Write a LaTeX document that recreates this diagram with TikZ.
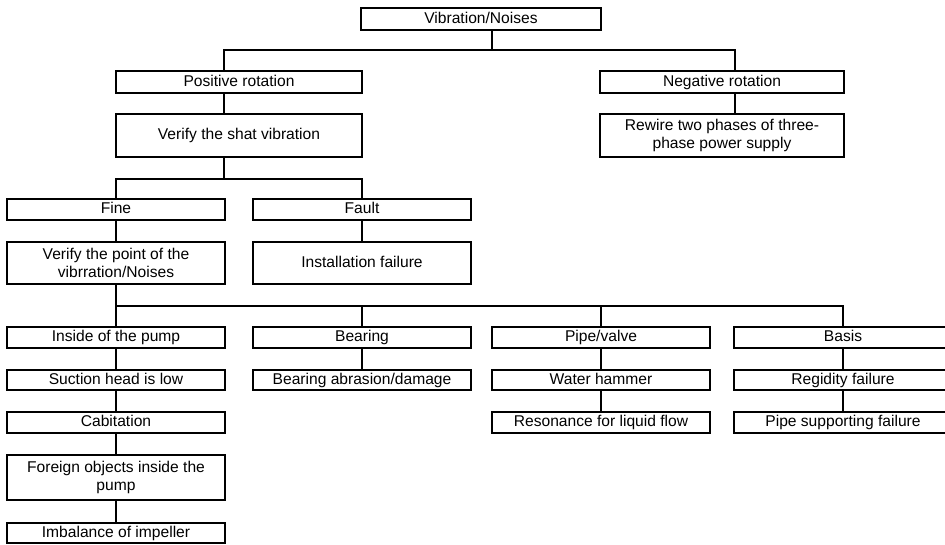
\documentclass[tikz,border=0pt]{standalone}
\usepackage{fontspec}
\setmainfont{Liberation Sans}
\usetikzlibrary{positioning}
\tikzset{
  box/.style={draw, line width=1.5pt, inner sep=0pt, align=center,
    minimum width=163.5pt, minimum height=15.75pt,
    text height=8.6pt, text depth=2.4pt,
    font=\fontsize{11.7}{14}\selectfont},
  twoline/.style={text height=, text depth=},
  link/.style={line width=1.2pt},
}
\begin{document}
\begin{tikzpicture}[x=0.75pt, y=-0.75pt]
\useasboundingbox (0,0) rectangle (945,545);
\node[box, minimum width=180pt, minimum height=16.5pt] (vib) at (481,19) {Vibration/Noises};
\node[box, minimum width=184.5pt, minimum height=16.5pt] (pos) at (239,82) {Positive rotation};
\node[box, minimum width=183pt, minimum height=16.5pt] (neg) at (722,82) {Negative rotation};
\node[box, minimum width=184.5pt, minimum height=32.25pt] (shat) at (239,135.5) {Verify the shat vibration};
\node[box, twoline, minimum width=183pt, minimum height=32.25pt] (rewire) at (722,135.5) {Rewire two phases of three-\\phase power supply};
\node[box] (fine) at (116,209.5) {Fine};
\node[box] (fault) at (362,209.5) {Fault};
\node[box, twoline, minimum height=31.5pt] (point) at (116,263) {Verify the point of the\\vibrration/Noises};
\node[box, minimum height=31.5pt] (install) at (362,263) {Installation failure};
\node[box] (inside) at (116,337.5) {Inside of the pump};
\node[box] (bearing) at (362,337.5) {Bearing};
\node[box] (pipe) at (601,337.5) {Pipe/valve};
\node[box] (basis) at (843,337.5) {Basis};
\node[box, minimum height=15pt] (suction) at (116,380) {Suction head is low};
\node[box, minimum height=15pt] (abrasion) at (362,380) {Bearing abrasion/damage};
\node[box, minimum height=15pt] (water) at (601,380) {Water hammer};
\node[box, minimum height=15pt] (rigid) at (843,380) {Regidity failure};
\node[box] (cabit) at (116,422.5) {Cabitation};
\node[box] (reson) at (601,422.5) {Resonance for liquid flow};
\node[box] (support) at (843,422.5) {Pipe supporting failure};
\node[box, twoline, minimum height=33.75pt] (foreign) at (116,477.5) {Foreign objects inside the\\pump};
\node[box, minimum height=15pt] (imbal) at (116,533) {Imbalance of impeller};
\coordinate (j1) at (492,50);
\coordinate (d1) at (224,50);
\coordinate (d2) at (735,50);
\coordinate (j2) at (224,179);
\coordinate (j3) at (116,306);
\draw[link] (vib.south -| j1) -- (j1);
\draw[link] (pos.north -| d1) -- (d1) -- (d2) -- (neg.north -| d2);
\draw[link] (pos.south -| d1) -- (shat.north -| d1);
\draw[link] (neg.south -| d2) -- (rewire.north -| d2);
\draw[link] (shat.south -| j2) -- (j2);
\draw[link] (fine.north) |- (j2) -| (fault.north);
\draw[link] (fine) -- (point);
\draw[link] (fault) -- (install);
\draw[link] (point) -- (inside);
\draw[link] (j3) -| (bearing.north);
\draw[link] (j3) -| (pipe.north);
\draw[link] (j3) -| (basis.north);
\draw[link] (inside) -- (suction);
\draw[link] (suction) -- (cabit);
\draw[link] (cabit) -- (foreign);
\draw[link] (foreign) -- (imbal);
\draw[link] (bearing) -- (abrasion);
\draw[link] (pipe) -- (water);
\draw[link] (water) -- (reson);
\draw[link] (basis) -- (rigid);
\draw[link] (rigid) -- (support);
\end{tikzpicture}
\end{document}
